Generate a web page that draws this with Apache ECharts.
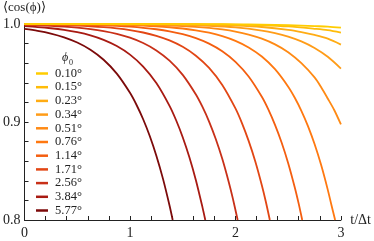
<!DOCTYPE html>
<html>
<head>
<meta charset="utf-8">
<script src="https://cdn.jsdelivr.net/npm/echarts@6/dist/echarts.min.js"></script>
<style>
html,body{margin:0;padding:0;background:#fff;}
#chart{width:374px;height:241px;}
</style>
</head>
<body>
<div id="chart"></div>
<script>
// Legend labels (initial angle phi0)
const phiLabels = ['0.10°','0.15°','0.23°','0.34°','0.51°','0.76°','1.14°','1.71°','2.56°','3.84°','5.77°'];

// Curves: [t/Δt, <cos(phi)>]
const c010 = [[0,1.0],[0.5,0.99999],[1,0.99998],[1.5,0.99992],[1.75,0.99985],[2,0.9997],[2.25,0.99942],[2.5,0.99888],[2.75,0.99783],[2.875,0.9973],[3,0.9962]];
const c015 = [[0,1.0],[0.5,0.99999],[1,0.99995],[1.25,0.99991],[1.5,0.99982],[1.75,0.99965],[2,0.99933],[2.25,0.9987],[2.5,0.99748],[2.75,0.99513],[2.875,0.9937],[3,0.9912]];
const c023 = [[0,0.99999],[0.5,0.99997],[1,0.99989],[1.25,0.99978],[1.5,0.99958],[1.75,0.99918],[2,0.99842],[2.25,0.99694],[2.5,0.99409],[2.625,0.99177],[2.75,0.9888],[2.875,0.985],[3,0.979]];
const c034 = [[0,0.99998],[0.5,0.99993],[0.75,0.99987],[1,0.99975],[1.25,0.99952],[1.5,0.99908],[1.75,0.99821],[2,0.99655],[2.25,0.99332],[2.375,0.99071],[2.5,0.9871],[2.625,0.9822],[2.75,0.9755],[2.875,0.9665],[3,0.9545]];
const c051 = [[0,0.99996],[0.25,0.99992],[0.5,0.99985],[0.75,0.99971],[1,0.99945],[1.25,0.99893],[1.5,0.99792],[1.75,0.99598],[1.875,0.99441],[2,0.99224],[2.125,0.9892],[2.25,0.985],[2.375,0.9792],[2.5,0.9712],[2.625,0.96],[2.75,0.9455],[2.8125,0.9355],[2.875,0.924],[2.9375,0.912],[3,0.8975]];
const c076 = [[0,0.99991],[0.25,0.99983],[0.5,0.99967],[0.75,0.99936],[1,0.99877],[1.125,0.99829],[1.25,0.99761],[1.375,0.99668],[1.5,0.99539],[1.625,0.99359],[1.75,0.99109],[1.875,0.98761],[2,0.98278],[2.125,0.97607],[2.25,0.96678],[2.375,0.95388],[2.5,0.93606],[2.5625,0.92475],[2.625,0.9114],[2.6875,0.89579],[2.75,0.87748],[2.8125,0.856],[2.875,0.831],[2.91,0.81524],[2.945,0.8]];
const c114 = [[0,0.9998],[0.125,0.99972],[0.25,0.99962],[0.375,0.99947],[0.5,0.99926],[0.625,0.99897],[0.75,0.99857],[0.875,0.99801],[1,0.99723],[1.125,0.99614],[1.25,0.99464],[1.375,0.99254],[1.5,0.98963],[1.625,0.98559],[1.75,0.97999],[1.875,0.97219],[2,0.9614],[2.125,0.94642],[2.25,0.92573],[2.3125,0.91263],[2.375,0.8971],[2.4375,0.87907],[2.5,0.85798],[2.5625,0.83322],[2.6,0.81644],[2.633,0.8]];
const c171 = [[0,0.99955],[0.125,0.99938],[0.25,0.99914],[0.375,0.9988],[0.5,0.99833],[0.625,0.99768],[0.75,0.99678],[0.875,0.99552],[1,0.99377],[1.125,0.99133],[1.25,0.98795],[1.375,0.98325],[1.5,0.97673],[1.625,0.96768],[1.75,0.95517],[1.875,0.93778],[2,0.91383],[2.0625,0.89861],[2.125,0.8807],[2.1875,0.85993],[2.25,0.83552],[2.2875,0.81895],[2.326,0.8]];
const c256 = [[0,0.999],[0.125,0.99861],[0.25,0.99807],[0.375,0.99731],[0.5,0.99627],[0.625,0.99481],[0.75,0.99278],[0.875,0.98996],[1,0.98605],[1.125,0.98061],[1.25,0.97306],[1.375,0.96259],[1.5,0.9481],[1.625,0.92804],[1.6875,0.91534],[1.75,0.90047],[1.8125,0.88288],[1.875,0.86243],[1.9375,0.83835],[1.975,0.82207],[2.021,0.8]];
const c384 = [[0,0.99775],[0.125,0.99688],[0.25,0.99566],[0.375,0.99396],[0.5,0.9916],[0.625,0.98833],[0.75,0.98378],[0.875,0.97746],[1,0.96871],[1.125,0.95653],[1.25,0.93972],[1.375,0.91648],[1.4375,0.90176],[1.5,0.88451],[1.5625,0.86425],[1.625,0.84057],[1.6875,0.81291],[1.714,0.8]];
const c577 = [[0,0.99493],[0.125,0.99295],[0.25,0.99021],[0.375,0.98638],[0.5,0.98107],[0.625,0.97372],[0.75,0.9635],[0.875,0.94936],[1,0.9298],[1.0625,0.91736],[1.125,0.9028],[1.1875,0.88568],[1.25,0.8656],[1.3125,0.8422],[1.375,0.8148],[1.405,0.8]];

const curves = [c010,c015,c023,c034,c051,c076,c114,c171,c256,c384,c577];

// Axis ticks
const xTicks = [0,1,2,3];
const yTicks = [0.8,0.9,1.0];

const palette = ['#FFCC00','#FFBC08','#FFAC14','#FF9C18','#FF8A14','#FF7810','#F45E10','#E24614','#C83018','#A81A12','#7C0A0A'];
const FONT = '"Liberation Serif", "DejaVu Serif", serif';

const chart = echarts.init(document.getElementById('chart'), null, {renderer:'canvas'});
chart.setOption({
  animation:false,
  color: palette,
  grid:{left:24, right:32, top:24, bottom:21},
  xAxis:{
    type:'value', min:xTicks[0], max:xTicks[xTicks.length-1], interval:1,
    name:'t/Δt', nameLocation:'end', nameGap:8,
    nameTextStyle:{fontFamily:FONT, fontSize:14, color:'#222', verticalAlign:'middle'},
    axisLine:{show:true, lineStyle:{color:'#222', width:1}},
    axisTick:{show:true, inside:true, length:4, lineStyle:{color:'#222'}},
    minorTick:{show:true, splitNumber:5, length:4, lineStyle:{color:'#222'}},
    axisLabel:{fontFamily:FONT, fontSize:14, color:'#222', margin:6},
    splitLine:{show:false}
  },
  yAxis:{
    type:'value', min:yTicks[0], max:yTicks[yTicks.length-1], interval:0.1,
    name:'⟨cos(ϕ)⟩', nameLocation:'end', nameGap:10,
    nameTextStyle:{fontFamily:FONT, fontSize:13, color:'#222'},
    axisLine:{show:true, lineStyle:{color:'#222', width:1}},
    axisTick:{show:true, inside:true, length:4, lineStyle:{color:'#222'}},
    minorTick:{show:true, splitNumber:5, length:4, lineStyle:{color:'#222'}},
    axisLabel:{fontFamily:FONT, fontSize:14, color:'#222', margin:4, formatter:v=>v.toFixed(1)},
    splitLine:{show:false}
  },
  legend:{
    orient:'vertical', left:36, top:67, padding:0,
    icon:'rect', itemWidth:12, itemHeight:2.5, itemGap:0.7,
    data: phiLabels,
    textStyle:{fontFamily:FONT, fontSize:12.5, color:'#222', lineHeight:12, padding:[0,0,0,2]}
  },
  graphic:[
    {type:'text', left:62, top:52, style:{text:'ϕ', font:'italic 12px ' + FONT, fill:'#222'}},
    {type:'text', left:69, top:59, style:{text:'0', font:'8px ' + FONT, fill:'#222'}}
  ],
  series: curves.map((d,i)=>({
    name: phiLabels[i], type:'line', data:d, showSymbol:false, symbol:'none',
    smooth:0.3, clip:true,
    lineStyle:{width:1.8, color:palette[i]},
    z: 10 - i
  }))
});
</script>
</body>
</html>
